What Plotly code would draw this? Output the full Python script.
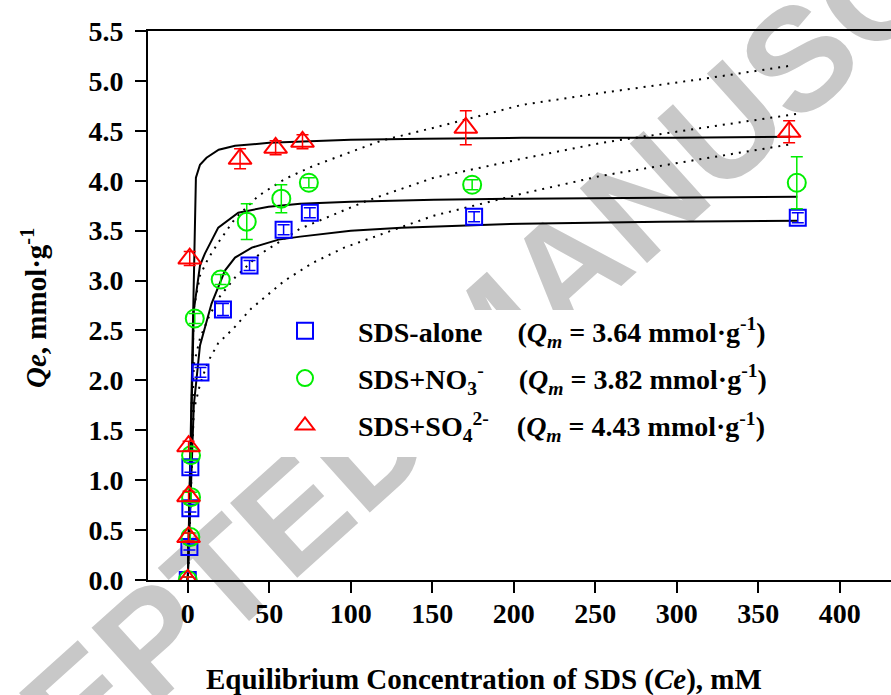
import plotly.graph_objects as go

# ---- measured adsorption points: equilibrium concentration (mM) vs uptake (mmol/g) ----
ce_alone = [0, 1.0, 1.6, 1.6, 7.8, 21.6, 37.9, 58.8, 74.9, 175.7, 374.3]
qe_alone = [0, 0.33, 0.72, 1.13, 2.08, 2.71, 3.15, 3.51, 3.68, 3.64, 3.63]
err_alone = [0.03, 0.03, 0.04, 0.05, 0.05, 0.06, 0.05, 0.05, 0.05, 0.05, 0.05]

ce_no3 = [0, 1.6, 2.0, 2.0, 4.3, 20.2, 36.2, 57.4, 74.3, 174.5, 373.7]
qe_no3 = [0, 0.43, 0.83, 1.25, 2.62, 3.01, 3.59, 3.82, 3.98, 3.96, 3.98]
err_no3 = [0.03, 0.04, 0.05, 0.05, 0.05, 0.05, 0.18, 0.14, 0.05, 0.05, 0.26]

ce_so4 = [0, 0.5, 0.5, 0.5, 1.2, 32.1, 53.9, 70.4, 170.6, 369.0]
qe_so4 = [0, 0.43, 0.84, 1.34, 3.22, 4.22, 4.33, 4.39, 4.53, 4.49]
err_so4 = [0.03, 0.04, 0.05, 0.05, 0.07, 0.10, 0.07, 0.07, 0.17, 0.11]

# ---- fitted isotherm curves (solid: Langmuir, dotted: Freundlich) ----
lang_alone_x = [0, 3.7, 7.5, 10.5, 14.6, 22.8, 29, 39.3, 55.7, 69, 100, 131, 205, 290, 374]
lang_alone_y = [0, 1.75, 2.35, 2.52, 2.77, 3.10, 3.23, 3.33, 3.41, 3.44, 3.50, 3.53, 3.57, 3.59, 3.60]

lang_no3_x = [0, 3.7, 7.5, 10.5, 18.7, 31, 49.6, 69, 100, 151, 205, 290, 374]
lang_no3_y = [0, 2.70, 3.15, 3.27, 3.53, 3.68, 3.74, 3.77, 3.79, 3.81, 3.82, 3.83, 3.84]

lang_so4_x = [0, 5.0, 7.5, 11.5, 19, 29, 50, 77, 100, 145, 205, 300, 370]
lang_so4_y = [0, 4.03, 4.16, 4.23, 4.31, 4.35, 4.38, 4.40, 4.41, 4.42, 4.43, 4.43, 4.44]

freu_alone_x = [0, 3.7, 7.5, 12.5, 18.6, 28, 39, 59.5, 77, 96, 137, 151, 205, 254, 316, 372]
freu_alone_y = [0, 1.70, 1.96, 2.19, 2.37, 2.52, 2.72, 3.00, 3.18, 3.33, 3.57, 3.65, 3.87, 4.05, 4.22, 4.37]

freu_no3_x = [0, 3.7, 7.5, 12.5, 18.7, 29, 43, 69, 110, 151, 205, 254, 316, 374]
freu_no3_y = [0, 2.16, 2.42, 2.62, 2.82, 3.03, 3.25, 3.52, 3.80, 4.03, 4.22, 4.38, 4.53, 4.67]

freu_so4_x = [0, 3.7, 7.5, 12.5, 18.7, 29, 43.4, 59.9, 77.3, 118.5, 155.6, 205, 254, 316, 369]
freu_so4_y = [0, 2.72, 3.05, 3.22, 3.38, 3.62, 3.85, 4.02, 4.15, 4.40, 4.55, 4.76, 4.88, 5.02, 5.15]

NB = "\u00a0"
names = [
    "<b>SDS-alone" + NB * 5 + "(<i>Q<sub>m</sub></i> = 3.64 mmol·g<sup>-1</sup>)</b>",
    "<b>SDS+NO<sub>3</sub><sup>-</sup>" + NB * 5 + "(<i>Q<sub>m</sub></i> = 3.82 mmol·g<sup>-1</sup>)</b>",
    "<b>SDS+SO<sub>4</sub><sup>2-</sup>" + NB * 4 + "(<i>Q<sub>m</sub></i> = 4.43 mmol·g<sup>-1</sup>)</b>",
]

SERIF = "Liberation Serif"

fig = go.Figure()

# fitted curves
for xs, ys in [(lang_alone_x, lang_alone_y), (lang_no3_x, lang_no3_y), (lang_so4_x, lang_so4_y)]:
    fig.add_trace(go.Scatter(x=xs, y=ys, mode="lines", showlegend=False, hoverinfo="skip",
                             line=dict(color="black", width=2)))
for xs, ys in [(freu_alone_x, freu_alone_y), (freu_no3_x, freu_no3_y), (freu_so4_x, freu_so4_y)]:
    fig.add_trace(go.Scatter(x=xs, y=ys, mode="lines", showlegend=False, hoverinfo="skip",
                             line=dict(color="black", width=2, dash="2px,6px")))

# experimental points with error bars
series = [
    (ce_alone, qe_alone, err_alone, "square-open", 16, "#0000ff", names[0], "g1"),
    (ce_no3, qe_no3, err_no3, "circle-open", 18, "#00ee00", names[1], "g2"),
    (ce_so4, qe_so4, err_so4, "triangle-up-open", 20, "#ff0000", names[2], "g3"),
]
for xs, ys, es, sym, size, col, nm, grp in series:
    fig.add_trace(go.Scatter(
        x=xs, y=ys, mode="markers", name=nm, legendgroup=grp,
        marker=dict(symbol=sym, size=size, color=col, line=dict(color=col, width=2)),
        error_y=dict(type="data", array=es, visible=True, color=col, thickness=1.5, width=6),
    ))

axis_common = dict(
    showline=True, linecolor="black", linewidth=2,
    ticks="outside", ticklen=11, tickwidth=2, tickcolor="black",
    showgrid=False, zeroline=False,
    tickfont=dict(family=SERIF, size=28, color="black", weight="bold"),
)
fig.update_xaxes(range=[-24.4, 431.5], tickvals=[0, 50, 100, 150, 200, 250, 300, 350, 400],
                 mirror=True, ticklabelstandoff=-4, **axis_common)
fig.update_yaxes(range=[0, 5.5], tickvals=[i * 0.5 for i in range(12)], tickformat=".1f",
                 mirror=False, ticklabelstandoff=6, **axis_common)

W, H = 891, 695
L, R, T, B = 148, 0, 31, 115
pw, ph = W - L - R, H - T - B


def px(xp):
    return (xp - L) / pw


def py(yp):
    return (H - B - yp) / ph


# page watermark beneath the data, masked where the key sits
WX, WY = 476, 330
fig.add_shape(type="rect", xref="paper", yref="paper",
              x0=px(WX - 10), x1=px(WX + 10), y0=py(WY + 10), y1=py(WY - 10),
              line=dict(width=0), fillcolor="rgba(0,0,0,0)", layer="below",
              label=dict(text="<b>ACCEPTED MANUSCRIPT</b>", textangle=-42,
                         textposition="middle center",
                         font=dict(family="Liberation Sans", size=146,
                                   color="#c8c8c8")))
fig.add_shape(type="rect", xref="paper", yref="paper",
              x0=px(230), x1=px(775), y0=py(457), y1=py(310),
              line=dict(width=0), fillcolor="white", layer="below")

# axis titles
fig.add_annotation(xref="paper", yref="paper", x=px(484), y=py(679),
                   text="<b>Equilibrium Concentration of SDS (<i>Ce</i>), mM</b>",
                   showarrow=False, xanchor="center", yanchor="middle",
                   font=dict(family=SERIF, size=29, color="black"))
fig.add_annotation(xref="paper", yref="paper", x=px(34), y=py(308),
                   text="<b><i>Qe</i>, mmol·g<sup>-1</sup></b>", textangle=-90,
                   showarrow=False, xanchor="center", yanchor="middle",
                   font=dict(family=SERIF, size=29, color="black"))

fig.update_layout(
    width=W, height=H, margin=dict(l=L, r=R, t=T, b=B, pad=0),
    paper_bgcolor="white", plot_bgcolor="white",
    legend=dict(x=px(252), y=py(306), xanchor="left", yanchor="top",
                bgcolor="rgba(255,255,255,0)", borderwidth=0,
                font=dict(family=SERIF, size=28, color="black"),
                itemwidth=96, traceorder="grouped", tracegroupgap=8),
)

fig.write_html("out.html")
